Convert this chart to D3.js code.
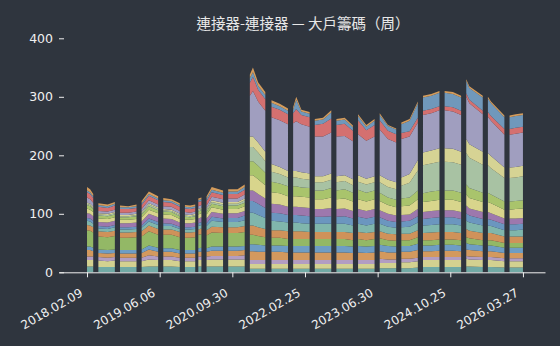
<!DOCTYPE html>
<html><head><meta charset="utf-8">
<script src="https://cdn.jsdelivr.net/npm/d3@7"></script>
<style>html,body{margin:0;padding:0;background:#2f353e;} svg{display:block}</style>
</head><body>
<svg id="chart" width="560" height="346"></svg>
<script>
const _ = null;
const title = "連接器-連接器 — 大戶籌碼（周）";
// week index of each sample (null = no data, shown as a gap)
const weeks = [0,3,6,_,11,20,27,_,32,40,48,_,53,60,69,_,74,82,90,_,95,100,105,_,108,111,_,116,121,132,_,137,146,153,_,158,161,166,173,_,179,187,195,_,200,203,208,216,_,221,229,237,_,242,250,258,_,263,271,279,_,284,292,300,_,305,313,321,_,326,334,342,_,347,355,363,_,368,371,384,_,389,392,405,_,410,416,423];
const tickWeeks = [0, 70.5, 141, 211.5, 282, 352.5, 423];
const tickLabels = ["2018.02.09","2019.06.06","2020.09.30","2022.02.25","2023.06.30","2024.10.25","2026.03.27"];
const yTicks = [0,100,200,300,400];
const layerNames = ["g01","g02","g03","g04","g05","g06","g07","g08","g09","g10","g11","g12","g13","g14","g15","g16","g17","g18"];

const s01 = [10,10,10,_,9,9,9,_,9,9,9,_,9,10,10,_,10,10,9,_,9,9,9,_,10,10,_,10,10,10,_,10,10,10,_,6,6,6,6,_,6,6,6,_,6,6,6,6,_,6,6,6,_,6,6,6,_,6,6,6,_,7,7,7,_,7,7,8,_,9,9,9,_,9,9,9,_,10,10,9,_,9,9,8,_,8,8,8];
const s02 = [11,11,11,_,11,10,11,_,10,10,10,_,10,12,11,_,11,11,10,_,10,10,10,_,11,11,_,11,12,12,_,12,12,12,_,8,8,8,8,_,8,8,8,_,8,8,8,8,_,8,8,8,_,8,8,8,_,8,8,8,_,9,9,9,_,10,10,11,_,12,12,12,_,12,12,12,_,13,12,12,_,12,12,11,_,11,11,11];
const s03 = [6,6,6,_,6,6,6,_,6,6,6,_,6,7,6,_,6,6,6,_,6,6,6,_,6,6,_,6,6,6,_,6,6,7,_,7,7,7,7,_,7,7,7,_,7,7,7,7,_,7,7,7,_,7,7,7,_,7,7,7,_,7,6,6,_,6,6,6,_,5,5,5,_,5,5,5,_,5,5,5,_,5,5,5,_,5,5,5];
const s04 = [11,11,9,_,7,7,7,_,7,7,7,_,8,10,8,_,8,8,7,_,7,7,7,_,8,8,_,8,9,9,_,9,9,9,_,15,15,14,14,_,14,14,13,_,13,13,13,13,_,13,13,13,_,13,13,12,_,13,12,13,_,13,12,12,_,12,12,13,_,10,10,11,_,11,11,10,_,11,11,10,_,10,10,9,_,9,9,9];
const s05 = [6,6,6,_,6,6,6,_,6,6,6,_,6,7,7,_,6,6,6,_,6,6,6,_,6,7,_,6,7,7,_,7,7,7,_,12,12,12,11,_,11,11,11,_,11,11,11,11,_,11,11,11,_,11,11,11,_,11,11,11,_,11,11,10,_,10,10,11,_,10,10,10,_,10,10,10,_,11,10,10,_,10,10,9,_,9,9,9];
const s06 = [28,27,26,_,22,22,23,_,21,21,22,_,22,24,22,_,23,23,22,_,21,21,22,_,23,23,_,22,24,23,_,23,23,24,_,16,16,15,14,_,13,13,12,_,12,12,12,12,_,12,12,12,_,12,12,11,_,12,11,12,_,11,10,10,_,10,10,11,_,9,9,9,_,9,9,9,_,10,10,9,_,9,9,8,_,8,8,8];
const s07 = [9,9,9,_,9,9,9,_,9,9,9,_,9,10,10,_,9,9,9,_,9,9,9,_,9,10,_,9,10,10,_,10,10,10,_,16,16,15,14,_,13,13,13,_,13,13,13,12,_,12,12,12,_,12,12,12,_,12,12,12,_,12,11,11,_,11,11,12,_,12,13,13,_,13,13,12,_,14,13,12,_,12,12,11,_,11,11,11];
const s08 = [7,7,6,_,5,5,6,_,5,5,5,_,6,7,7,_,6,6,5,_,5,5,5,_,6,6,_,7,10,9,_,9,9,10,_,22,22,21,19,_,16,15,15,_,15,15,14,14,_,14,14,14,_,14,14,13,_,14,13,14,_,13,12,11,_,11,12,13,_,13,13,13,_,13,13,13,_,14,14,13,_,13,12,11,_,11,11,12];
const s09 = [5,5,5,_,4,4,4,_,4,4,4,_,4,5,5,_,5,4,4,_,4,4,4,_,5,5,_,5,7,6,_,7,7,8,_,20,20,19,17,_,14,14,13,_,13,13,13,13,_,12,12,13,_,12,13,12,_,12,12,12,_,11,10,10,_,10,10,11,_,11,12,12,_,12,12,11,_,13,12,11,_,11,11,10,_,10,10,10];
const s10 = [8,8,8,_,7,7,7,_,7,7,7,_,7,8,8,_,8,8,7,_,7,7,7,_,8,8,_,8,8,8,_,8,8,8,_,18,18,17,16,_,15,15,14,_,14,14,14,14,_,13,13,14,_,13,13,13,_,13,13,13,_,12,12,11,_,11,11,12,_,12,12,12,_,12,12,12,_,13,12,12,_,12,11,10,_,10,10,10];
const s11 = [8,7,7,_,6,6,6,_,6,6,6,_,7,7,7,_,7,7,6,_,6,6,6,_,7,7,_,7,8,7,_,7,7,8,_,26,26,25,23,_,20,19,18,_,18,18,18,18,_,17,17,18,_,17,17,16,_,17,16,17,_,16,15,14,_,15,15,17,_,17,17,18,_,18,18,17,_,19,18,17,_,17,17,15,_,15,16,16];
const s12 = [6,6,5,_,5,5,5,_,4,4,5,_,5,6,5,_,5,5,5,_,5,4,5,_,5,5,_,5,6,6,_,6,6,6,_,24,24,23,21,_,18,17,17,_,17,17,16,16,_,15,15,16,_,15,16,15,_,16,15,15,_,14,13,13,_,13,14,15,_,15,16,16,_,16,16,16,_,17,17,16,_,16,15,14,_,14,14,14];
const s13 = [2,2,2,_,2,2,2,_,2,2,2,_,2,3,3,_,2,2,2,_,2,2,2,_,2,2,_,3,3,3,_,3,3,4,_,24,24,23,20,_,17,16,15,_,15,15,15,14,_,14,14,14,_,14,14,13,_,14,14,14,_,18,18,18,_,22,25,34,_,48,48,49,_,49,48,48,_,54,52,48,_,47,45,40,_,40,40,41];
const s14 = [2,2,2,_,2,2,2,_,2,2,2,_,2,2,2,_,2,2,2,_,2,2,2,_,2,2,_,2,3,3,_,3,3,3,_,18,18,17,16,_,13,12,11,_,11,11,11,11,_,10,10,11,_,10,10,10,_,11,10,10,_,12,12,12,_,14,15,18,_,22,22,23,_,23,23,22,_,24,23,22,_,21,21,18,_,18,18,18];
const s15 = [9,8,7,_,4,4,4,_,4,4,4,_,5,5,5,_,5,5,5,_,4,4,4,_,5,5,_,5,6,6,_,6,6,7,_,70,78,70,70,_,80,80,80,_,82,85,82,80,_,68,68,70,_,68,67,65,_,70,65,68,_,78,70,68,_,66,64,64,_,64,64,65,_,65,64,63,_,72,70,64,_,62,60,56,_,56,57,57];
const s16 = [9,9,8,_,7,6,7,_,6,6,6,_,7,8,7,_,7,7,7,_,6,6,6,_,7,7,_,8,8,7,_,8,8,8,_,22,24,20,20,_,18,18,17,_,17,21,16,16,_,20,22,24,_,20,21,18,_,24,18,20,_,16,14,14,_,10,9,8,_,7,7,7,_,7,7,7,_,6,6,6,_,8,8,10,_,10,10,10];
const s17 = [3,3,3,_,3,3,3,_,3,3,3,_,3,3,3,_,3,3,3,_,3,3,3,_,3,3,_,4,4,4,_,4,4,5,_,8,8,7,7,_,7,6,6,_,6,16,6,6,_,7,7,10,_,7,7,6,_,7,6,7,_,9,8,8,_,15,18,25,_,23,23,23,_,23,23,23,_,21,20,23,_,23,22,20,_,20,20,20];
const s18 = [6,5,4,_,3,3,3,_,3,2,3,_,4,4,4,_,4,3,3,_,3,3,3,_,3,3,_,4,5,4,_,4,4,4,_,6,8,6,5,_,4,4,4,_,4,5,3,3,_,3,3,4,_,3,3,3,_,3,3,3,_,3,2,2,_,3,3,3,_,3,3,3,_,3,3,3,_,3,3,3,_,3,3,3,_,3,3,3];

const palette = ["#71aaa5","#d3d190","#b29dc2","#d3995e","#6e9dc4","#93b866","#cf925a","#80b6ac","#6b96bf","#9d78ad","#d8d58c","#a9c46c","#a8c2a3","#d6d394","#a09ebf","#d47070","#7098bb","#d49c5c"];
const seriesValues = [s01,s02,s03,s04,s05,s06,s07,s08,s09,s10,s11,s12,s13,s14,s15,s16,s17,s18];

const W = 560, H = 346;
const svg = d3.select("#chart");
svg.append("rect").attr("width", W).attr("height", H).attr("fill", "#2f353e");

const table = weeks.map((w, i) => {
  const row = {week: w};
  layerNames.forEach((k, j) => { row[k] = seriesValues[j][i] ?? 0; });
  return row;
});
const stacked = d3.stack().keys(layerNames)(table);

const x = d3.scaleLinear().domain([-27.2, 444.4]).range([59, 545]);
const y = d3.scaleLinear().domain([0, 400]).range([272.3, 38.3]);

const area = d3.area()
  .defined(d => d.data.week !== null)
  .x(d => x(d.data.week))
  .y0(d => y(d[0]))
  .y1(d => y(d[1]));

svg.append("g").selectAll("path").data(stacked).join("path")
  .attr("d", area)
  .attr("fill", (d, i) => palette[i]);

// y axis
const yAxis = svg.append("g").attr("transform", "translate(64,0)")
  .call(d3.axisLeft(y).tickValues(yTicks).tickSize(5).tickPadding(6));
yAxis.select(".domain").remove();
yAxis.selectAll("line").attr("stroke", "#f0f0f0");
yAxis.selectAll("text").attr("fill", "#f0f0f0").style("font", "12.5px 'DejaVu Sans'");

// x axis
const xAxis = svg.append("g").attr("transform", "translate(0,272.3)")
  .call(d3.axisBottom(x).tickValues(tickWeeks).tickFormat((d, i) => tickLabels[i]).tickSize(5).tickSizeOuter(0));
xAxis.select(".domain").attr("stroke", "#f0f0f0");
xAxis.selectAll("line").attr("stroke", "#f0f0f0");
xAxis.selectAll("text")
  .attr("fill", "#f0f0f0")
  .style("font", "12px 'DejaVu Sans'")
  .attr("text-anchor", "end")
  .attr("x", 0).attr("y", 0).attr("dy", 0)
  .attr("transform", "translate(-4,23) rotate(-30)");

svg.append("text")
  .attr("x", 303).attr("y", 29)
  .attr("text-anchor", "middle")
  .attr("fill", "#e8e8e8")
  .style("font", "14.5px 'Noto Sans CJK TC'")
  .text(title);
</script>
</body></html>
